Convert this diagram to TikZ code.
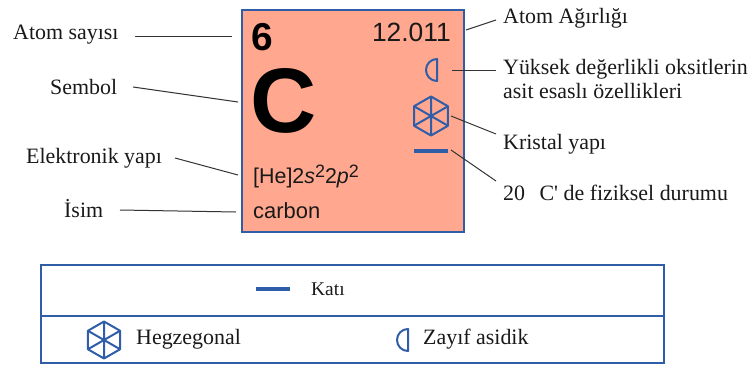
\documentclass[tikz,border=0pt]{standalone}
\usepackage{fontspec}
\setmainfont{Liberation Serif}
\newfontfamily\lfont{Liberation Serif}
\newfontfamily\hv{Liberation Sans}
\newfontfamily\hvit{Liberation Sans Italic}
\definecolor{bl}{HTML}{2F5DA8}
\definecolor{salm}{HTML}{FFA78F}
\definecolor{ln}{HTML}{333333}
\tikzset{
  lbl/.style={inner sep=0pt,anchor=west,font=\lfont\fontsize{22}{25}\selectfont,text=black!90},
  lead/.style={draw=ln,line width=1bp},
  sym/.style={draw=bl,line width=2bp,line join=round},
  elem/.style={inner sep=0pt,font=\hv,text=black!90},
}
\newcommand{\hexa}[3]{% centre x, y, radius
  \begin{scope}[shift={(#1,#2)}]
    \draw[sym] (0,#3)--(0.87*#3,0.5*#3)--(0.87*#3,-0.5*#3)--(0,-#3)--(-0.87*#3,-0.5*#3)--(-0.87*#3,0.5*#3)--cycle;
    \draw[sym] (0,#3)--(0,-#3) (0.87*#3,0.5*#3)--(-0.87*#3,-0.5*#3) (0.87*#3,-0.5*#3)--(-0.87*#3,0.5*#3);
  \end{scope}}
\newcommand{\halfm}[3]{% centre x, y, half height
  \draw[sym] (#1,#2+#3) arc[start angle=90,end angle=270,radius=#3] -- cycle;}
\newcommand{\suptwo}{\raisebox{6bp}{\hv\upshape\fontsize{18}{19}\selectfont 2}}
\begin{document}
\begin{tikzpicture}[x=1bp,y=-1bp]
\useasboundingbox (0,0) rectangle (755,367);
% element box
\node[draw=bl,fill=salm,line width=1.8bp,minimum width=222bp,minimum height=222bp,inner sep=0pt] (box) at (353,121) {};
\node[elem,font=\hv\bfseries\fontsize{39}{40}\selectfont,text=black] (num) at (262,37) {6};
\node[elem,anchor=east,font=\hv\fontsize{26.5}{28}\selectfont] (wt) at (451,32) {12.011};
\node[elem,font=\hv\bfseries\fontsize{92}{96}\selectfont,text=black] (sy) at (284,101) {C};
\node[elem,anchor=west,font=\hv\fontsize{21.5}{22}\selectfont] (cfg) at (253,176) {[He]2{\hvit s}\suptwo 2{\hvit p}\suptwo};
\node[elem,anchor=west,font=\hv\fontsize{22}{24}\selectfont] (nm) at (253,211) {carbon};
% symbols in box
\halfm{437}{70}{11}
\hexa{431}{116}{19.5}
\coordinate (dashA) at (414,151); \coordinate (dashB) at (448,151);
\draw[draw=bl,line width=3.2bp] (dashA)--(dashB);
% labels
\node[lbl] (la) at (13,35) {Atom sayısı};
\node[lbl] (lb) at (50,87) {Sembol};
\node[lbl] (lc) at (26,158) {Elektronik yapı};
\node[lbl] (ld) at (64,209) {İsim};
\node[lbl] (le) at (503,18) {Atom Ağırlığı};
\node[lbl,align=left] (lf) at (503,79) {Yüksek değerlikli oksitlerin\\asit esaslı özellikleri};
\node[lbl] (lg) at (503,144) {Kristal yapı};
\node[lbl] (lh) at (503,193) {20\ \ \hspace{3.5bp}C' de fiziksel durumu};
% connectors
\coordinate (a1) at (135,36); \coordinate (a2) at (232,36);
\coordinate (b1) at (133,87); \coordinate (b2) at (238,102);
\coordinate (c1) at (175,158); \coordinate (c2) at (238,175);
\coordinate (d1) at (120,210); \coordinate (d2) at (236,212);
\coordinate (e1) at (466,30); \coordinate (e2) at (496,20);
\coordinate (f1) at (452,70); \coordinate (f2) at (496,70);
\coordinate (g1) at (451,116); \coordinate (g2) at (496,134);
\coordinate (h1) at (451,150); \coordinate (h2) at (496,181);
\draw[lead] (a1)--(a2);
\draw[lead] (b1)--(b2);
\draw[lead] (c1)--(c2);
\draw[lead] (d1)--(d2);
\draw[lead] (e1)--(e2);
\draw[lead] (f1)--(f2);
\draw[lead] (g1)--(g2);
\draw[lead] (h1)--(h2);
% legend
\node[draw=bl,line width=1.8bp,minimum width=623bp,minimum height=98bp,inner sep=0pt] (leg) at (352.5,314) {};
\draw[draw=bl,line width=1.8bp] (leg.west |- 0,316) coordinate (m1) -- (leg.east |- 0,316) coordinate (m2);
\coordinate (s1) at (256,289); \coordinate (s2) at (290,289);
\draw[draw=bl,line width=3.2bp] (s1)--(s2);
\node[lbl,font=\lfont\fontsize{19.5}{22}\selectfont] (k) at (311,289) {Katı};
\hexa{104}{340}{18.5}
\node[lbl] (hg) at (136,339) {Hegzegonal};
\halfm{408}{340}{11}
\node[lbl] (zy) at (423,339) {Zayıf asidik};
\end{tikzpicture}
\end{document}
